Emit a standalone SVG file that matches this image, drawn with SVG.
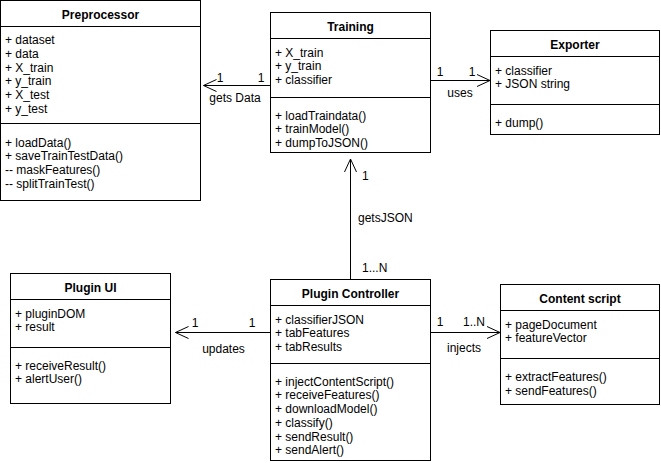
<svg xmlns="http://www.w3.org/2000/svg" width="661" height="463" viewBox="0 0 661 463">
<style>
text{font-family:"Liberation Sans",Arial,Helvetica,sans-serif;font-size:12px;fill:#000}
.t{font-weight:bold;text-anchor:middle}
.m{text-anchor:middle}
.box{fill:#fff;stroke:#000;stroke-width:1}
.ln{stroke:#000;stroke-width:1;fill:none}
</style>
<rect width="661" height="463" fill="#fff"/>
<g id="preprocessor">
<rect class="box" x="0.5" y="0.5" width="200" height="200"/>
<line class="ln" x1="0.5" y1="26.5" x2="200.5" y2="26.5"/>
<line class="ln" x1="0.5" y1="123.5" x2="200.5" y2="123.5"/>
<text class="t" x="100.5" y="18.5">Preprocessor</text>
<text x="5" y="44">+ dataset</text>
<text x="5" y="57.8">+ data</text>
<text x="5" y="71.6">+ X_train</text>
<text x="5" y="85.4">+ y_train</text>
<text x="5" y="99.2">+ X_test</text>
<text x="5" y="113">+ y_test</text>
<text x="5" y="146.5">+ loadData()</text>
<text x="5" y="160.3">+ saveTrainTestData()</text>
<text x="5" y="174.1">-- maskFeatures()</text>
<text x="5" y="187.9">-- splitTrainTest()</text>
</g>
<g id="training">
<rect class="box" x="270.5" y="12.5" width="160" height="140"/>
<line class="ln" x1="270.5" y1="38.5" x2="430.5" y2="38.5"/>
<line class="ln" x1="270.5" y1="97.5" x2="430.5" y2="97.5"/>
<text class="t" x="350.5" y="30.5">Training</text>
<text x="275" y="56.5">+ X_train</text>
<text x="275" y="70.3">+ y_train</text>
<text x="275" y="84.1">+ classifier</text>
<text x="275" y="119.5">+ loadTraindata()</text>
<text x="275" y="133.3">+ trainModel()</text>
<text x="275" y="147.1">+ dumpToJSON()</text>
</g>
<g id="exporter">
<rect class="box" x="490.5" y="30.5" width="169" height="104"/>
<line class="ln" x1="490.5" y1="56.5" x2="659.5" y2="56.5"/>
<line class="ln" x1="490.5" y1="104.5" x2="659.5" y2="104.5"/>
<text class="t" x="575" y="48.5">Exporter</text>
<text x="495" y="74.5">+ classifier</text>
<text x="495" y="88.3">+ JSON string</text>
<text x="495" y="126.5">+ dump()</text>
</g>
<g id="plugin-ui">
<rect class="box" x="10.5" y="273.5" width="160" height="130"/>
<line class="ln" x1="10.5" y1="299.5" x2="170.5" y2="299.5"/>
<line class="ln" x1="10.5" y1="347.5" x2="170.5" y2="347.5"/>
<text class="t" x="90.5" y="291.5">Plugin UI</text>
<text x="15" y="317.5">+ pluginDOM</text>
<text x="15" y="331.3">+ result</text>
<text x="15" y="369.5">+ receiveResult()</text>
<text x="15" y="383.3">+ alertUser()</text>
</g>
<g id="plugin-controller">
<rect class="box" x="270.5" y="279.5" width="160" height="181"/>
<line class="ln" x1="270.5" y1="305.5" x2="430.5" y2="305.5"/>
<line class="ln" x1="270.5" y1="363.5" x2="430.5" y2="363.5"/>
<text class="t" x="350.5" y="297.5">Plugin Controller</text>
<text x="275" y="323.5">+ classifierJSON</text>
<text x="275" y="337.3">+ tabFeatures</text>
<text x="275" y="351.1">+ tabResults</text>
<text x="275" y="385.7">+ injectContentScript()</text>
<text x="275" y="399.4">+ receiveFeatures()</text>
<text x="275" y="413.1">+ downloadModel()</text>
<text x="275" y="426.8">+ classify()</text>
<text x="275" y="440.5">+ sendResult()</text>
<text x="275" y="454.2">+ sendAlert()</text>
</g>
<g id="content-script">
<rect class="box" x="500.5" y="284.5" width="159" height="120"/>
<line class="ln" x1="500.5" y1="310.5" x2="659.5" y2="310.5"/>
<line class="ln" x1="500.5" y1="358.5" x2="659.5" y2="358.5"/>
<text class="t" x="580" y="302.5">Content script</text>
<text x="505" y="328.5">+ pageDocument</text>
<text x="505" y="342.3">+ featureVector</text>
<text x="505" y="381">+ extractFeatures()</text>
<text x="505" y="394.8">+ sendFeatures()</text>
</g>
<g id="connectors">
<path class="ln" d="M270.5 85.5H203.5M216.5 79.5L203.5 85.5L216.5 91.5"/>
<text class="m" x="220" y="82">1</text>
<text class="m" x="261" y="82">1</text>
<text class="m" x="235" y="102">gets Data</text>
<path class="ln" d="M430.5 80.5H490M477 74.5L490 80.5L477 86.5"/>
<text class="m" x="440" y="76">1</text>
<text class="m" x="472" y="76">1</text>
<text class="m" x="460" y="97">uses</text>
<path class="ln" d="M350.5 279.5V159M344.5 172L350.5 159L356.5 172"/>
<text x="362" y="179.5">1</text>
<text x="358" y="222">getsJSON</text>
<text x="362" y="272">1...N</text>
<path class="ln" d="M270.5 332.5H175.5M188.5 326.5L175.5 332.5L188.5 338.5"/>
<text class="m" x="195" y="327">1</text>
<text class="m" x="252" y="327">1</text>
<text class="m" x="223.5" y="353">updates</text>
<path class="ln" d="M430.5 332.5H500M487 326.5L500 332.5L487 338.5"/>
<text class="m" x="440" y="325.5">1</text>
<text class="m" x="474" y="325.5">1..N</text>
<text class="m" x="464" y="352">injects</text>
</g>
</svg>
